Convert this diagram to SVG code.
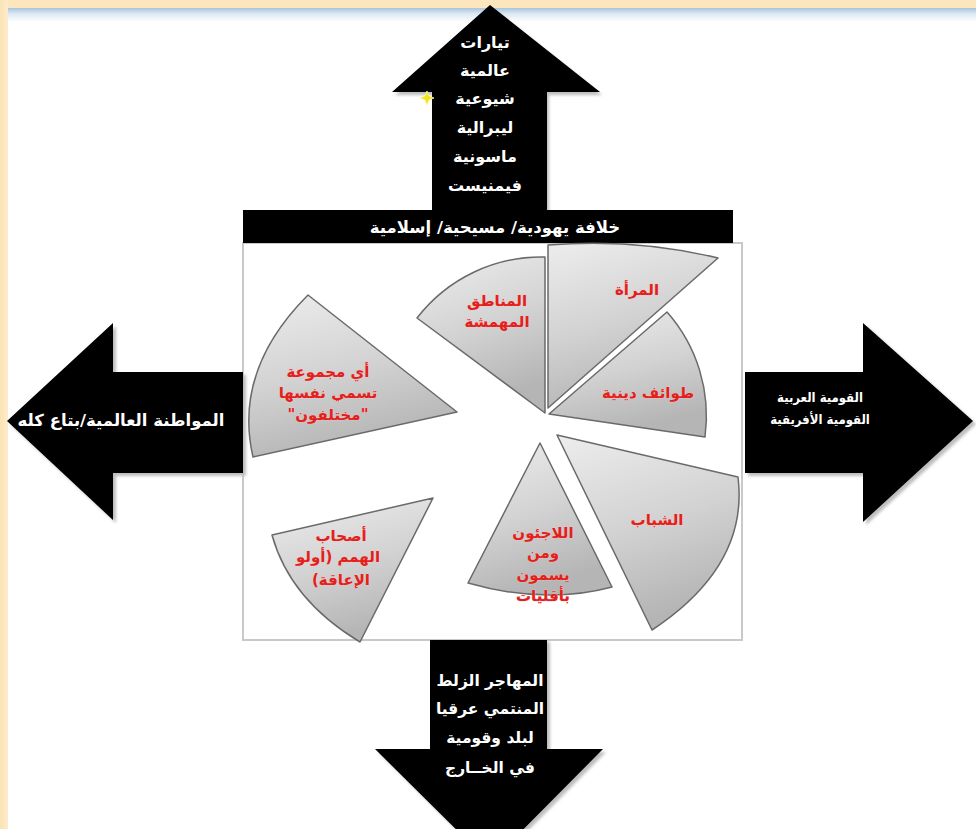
<svg xmlns="http://www.w3.org/2000/svg" width="976" height="829" viewBox="0 0 976 829">
<style>
.bg{fill:#ffffff}
.arrow{fill:#000000}
.shadow{fill:#bdbdbd;filter:url(#blur)}
.wt{fill:#ffffff;font-family:"DejaVu Sans",sans-serif;font-weight:bold;text-anchor:middle;direction:rtl}
.cond{font-family:"DejaVu Sans Condensed","DejaVu Sans",sans-serif;font-stretch:condensed}
.piece{fill:url(#pg);stroke:#6a6a6a;stroke-width:1.5;stroke-linejoin:round}
.rt{fill:#e3201b;font-family:"DejaVu Sans",sans-serif;font-weight:bold;font-size:15px;text-anchor:middle;direction:rtl;stroke:#f2c4c4;stroke-width:0.6;paint-order:stroke}
.box{fill:#ffffff;stroke:#c9c9c9;stroke-width:2}
</style>
<defs>
<linearGradient id="pg" x1="0" y1="0" x2="0.3" y2="1">
<stop offset="0" stop-color="#ededed"/>
<stop offset="0.55" stop-color="#d2d2d2"/>
<stop offset="1" stop-color="#b5b5b5"/>
</linearGradient>
<linearGradient id="topline" x1="0" y1="0" x2="0" y2="1">
<stop offset="0" stop-color="#a9c3dc"/>
<stop offset="0.4" stop-color="#dbe8f3"/>
<stop offset="1" stop-color="#ffffff"/>
</linearGradient>
<linearGradient id="beige" x1="0" y1="0" x2="1" y2="0">
<stop offset="0" stop-color="#fbe3b3"/>
<stop offset="1" stop-color="#fdeccd"/>
</linearGradient>
<filter id="blur" x="-10%" y="-10%" width="120%" height="120%">
<feGaussianBlur stdDeviation="1.5"/>
</filter>
</defs>

<!-- background -->
<rect class="bg" x="0" y="0" width="976" height="829"/>
<rect x="0" y="0" width="976" height="8" fill="#fbe6bd"/>
<rect x="0" y="0" width="8" height="829" fill="url(#beige)"/>
<rect x="8" y="8" width="968" height="14" fill="url(#topline)"/>

<!-- central box -->
<g id="center-box">
<rect class="box" x="243" y="243" width="499" height="397"/>
</g>

<g id="connectors">
<g id="arrow-top">
<polygon class="shadow" points="492,8 602,95 549,95 549,214 434,214 434,95 395,95"/>
<polygon class="arrow" points="490,5 600,92 547,92 547,212 432,212 432,92 392,92"/>
</g>
<g id="arrow-left">
<polygon class="shadow" points="10,424 116,326 116,375 246,375 246,476 116,476 116,523"/>
<polygon class="arrow" points="7,421 113,323 113,372 243,372 243,473 113,473 113,520"/>
</g>
<g id="arrow-right">
<polygon class="shadow" points="748,375 866,375 866,326 976,424 866,525 866,476 748,476"/>
<polygon class="arrow" points="745,372 863,372 863,323 973,421 863,522 863,473 745,473"/>
</g>
<g id="arrow-bottom">
<polygon class="shadow" points="433,642 550,642 550,752 606,752 493,866 378,752 433,752"/>
<polygon class="arrow" points="430,640 547,640 547,749 603,749 490,863 375,749 430,749"/>
</g>
<g id="bar-top">
<rect x="243" y="210" width="490" height="33" fill="#000000"/>
</g>
</g>

<!-- arrow texts -->
<g id="top-arrow-text">
<text class="wt" font-size="16" x="485" y="48">تيارات</text>
<text class="wt" font-size="16" x="485" y="76">عالمية</text>
<text class="wt" font-size="16" x="485" y="104">شيوعية</text>
<text class="wt" font-size="16" x="485" y="133">ليبرالية</text>
<text class="wt" font-size="16" x="485" y="162">ماسونية</text>
<text class="wt" font-size="16" x="485" y="191">فيمنيست</text>
</g>
<g id="bar-text">
<text class="wt" font-size="16.5" x="495" y="233">خلافة يهودية/ مسيحية/ إسلامية</text>
</g>
<g id="left-arrow-text">
<text class="wt" font-size="16.5" x="121" y="426">المواطنة العالمية/بتاع كله</text>
</g>
<g id="right-arrow-text">
<text class="wt cond" font-size="13" x="820" y="402">القومية العربية</text>
<text class="wt cond" font-size="13" x="820" y="424">القومية الأفريقية</text>
</g>
<g id="bottom-arrow-text">
<text class="wt" font-size="15.5" x="490" y="686">المهاجر الزلط</text>
<text class="wt" font-size="15.5" x="490" y="714">المنتمي عرقيا</text>
<text class="wt" font-size="15.5" x="490" y="743">لبلد وقومية</text>
<text class="wt" font-size="15.5" x="490" y="773">في الخــارج</text>
</g>

<!-- yellow star -->
<g id="star">
<polygon points="427,91 429,96 434,98 429,100 427,105 425,100 420,98 425,96" fill="#f3e21e" stroke="#fff7a0" stroke-width="0.8"/>
</g>

<!-- pieces -->
<g id="piece-marginalized">
<path class="piece" d="M545,413 L417,318 A157,157 0 0 1 545,257 Z"/>
<text class="rt" x="497" y="306">المناطق</text>
<text class="rt" x="497" y="327">المهمشة</text>
</g>
<g id="piece-woman">
<path class="piece" d="M548,408 L548,245 Q636,238 718,258 Z"/>
<text class="rt" x="637" y="295">المرأة</text>
</g>
<g id="piece-sects">
<path class="piece" d="M549,414 L667,312 A157,157 0 0 1 705,437 Z"/>
<text class="rt" x="648" y="398">طوائف دينية</text>
</g>
<g id="piece-youth">
<path class="piece" d="M557,435 L738,477 Q749,566 652,630 Z"/>
<text class="rt" x="657" y="525">الشباب</text>
</g>
<g id="piece-refugees">
<path class="piece" d="M540,443 L612,587 Q545,605 468,583 Z"/>
<text class="rt" x="543" y="538">اللاجئون</text>
<text class="rt" x="543" y="558">ومن</text>
<text class="rt" x="543" y="580">يسمون</text>
<text class="rt" x="543" y="601">بأقليات</text>
</g>
<g id="piece-disabled">
<path class="piece" d="M272,535 L433,498 L360,642 Q290,600 272,535 Z"/>
<text class="rt" x="341" y="541">أصحاب</text>
<text class="rt" x="338" y="562" font-size="14">الهمم (أولو</text>
<text class="rt" x="341" y="585">الإعاقة)</text>
</g>
<g id="piece-different">
<path class="piece" d="M308,295 L457,412 L253,457 Q233,370 308,295 Z"/>
<text class="rt" x="328" y="377">أي مجموعة</text>
<text class="rt" x="328" y="398">تسمي نفسها</text>
<text class="rt" x="328" y="420">"مختلفون"</text>
</g>
</svg>
